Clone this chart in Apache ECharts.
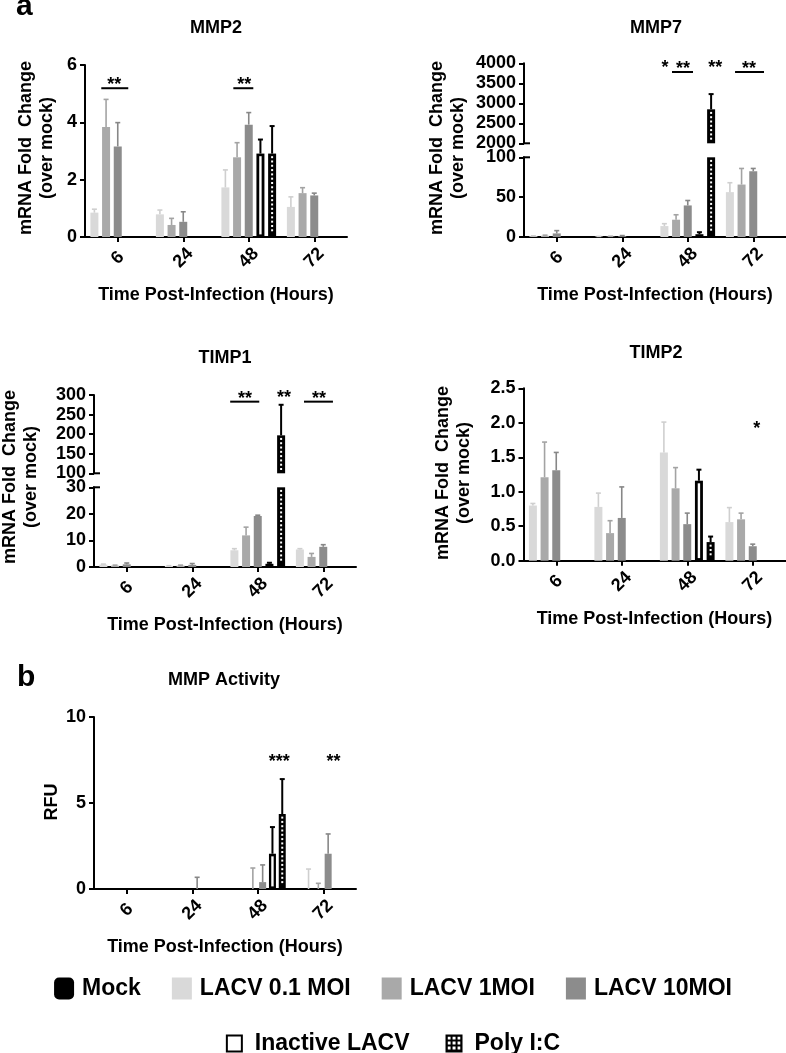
<!DOCTYPE html>
<html><head><meta charset="utf-8">
<script src="https://cdn.jsdelivr.net/npm/echarts@6/dist/echarts.min.js"></script>
<style>html,body{margin:0;padding:0;background:#fff}#c{width:786px;height:1053px}</style>
</head><body><div id="c"></div>
<script>
// ---------------- data ----------------
const categories = ['6', '24', '48', '72'];
const fiveNames = ['LACV 0.1 MOI', 'LACV 1MOI', 'LACV 10MOI', 'Inactive LACV', 'Poly I:C'];
const sixNames = ['Mock', 'LACV 0.1 MOI', 'LACV 1MOI', 'LACV 10MOI', 'Inactive LACV', 'Poly I:C'];

// MMP2 (mean, SD) per series, per time point
const mmp2Mean = [[0.85, 0.79, 1.73, 1.05], [3.84, 0.42, 2.78, 1.53], [3.16, 0.53, 3.92, 1.45], [null, null, 2.91, null], [null, null, 2.91, null]];
const mmp2Err  = [[0.12, 0.15, 0.61, 0.35], [0.96, 0.23, 0.51, 0.19], [0.83, 0.35, 0.42, 0.08], [null, null, 0.49, null], [null, null, 0.96, null]];
// MMP7
const mmp7Mean = [[1.0, 0.5, 13.7, 56.3], [1.5, 0.6, 21.7, 65.8], [4.5, 1.0, 39.6, 82.5], [null, null, 3.5, null], [null, null, 2850, null]];
const mmp7Err  = [[0.5, 0.3, 3.0, 11.8], [0.8, 0.3, 6.2, 20.2], [3.5, 0.8, 6.2, 3.5], [null, null, 2.5, null], [null, null, 380, null]];
// TIMP1
const timp1Mean = [[0.9, 0.4, 6.3, 6.6], [0.5, 0.5, 11.9, 3.8], [1.0, 0.8, 19.2, 7.6], [null, null, 1.2, null], [null, null, 197, null]];
const timp1Err  = [[0.2, 0.1, 0.6, 0.3], [0.2, 0.2, 3.1, 1.3], [0.5, 0.5, 0.3, 0.8], [null, null, 0.4, null], [null, null, 78, null]];
// TIMP2
const timp2Mean = [[0.80, 0.78, 1.57, 0.56], [1.21, 0.40, 1.05, 0.60], [1.31, 0.62, 0.53, 0.21], [null, null, 1.16, null], [null, null, 0.27, null]];
const timp2Err  = [[0.03, 0.20, 0.44, 0.21], [0.51, 0.18, 0.30, 0.09], [0.26, 0.45, 0.16, 0.03], [null, null, 0.16, null], [null, null, 0.08, null]];
// MMP activity (RFU)
const actMean = [[0, 0, 0, 0], [0, 0, 0, 0], [0, 0, 0, 0], [0, 0, 0.4, 2.05], [null, null, 2.05, null], [null, null, 4.36, null]];
const actErr  = [[0, 0, 0, 0], [0, 0, 0, 1.16], [0, 0, 1.22, 0.33], [0, 0.68, 1.0, 1.15], [null, null, 1.55, null], [null, null, 2.03, null]];

// significance marks: [category, text x (bar slots from group centre), line from, line to (null = no line), y value, text]
const mmp2Sig = [[0, -0.3, -1.41, 0.9, 5.19, '**'], [2, -0.38, -1.32, 0.39, 5.19, '**']];
const mmp7Sig = [[2, -1.95, null, null, 4007, '*'], [2, -0.4, -1.35, 0.45, 3782, '**'], [2, 2.35, null, null, 4007, '**'], [3, -0.36, -1.56, 0.92, 3782, '**']];
const timp1Sig = [[2, -1.1, -2.36, 0.13, 283, '**'], [2, 2.25, null, null, 306, '**'], [3, -0.36, -1.65, 0.83, 283, '**']];
const timp2Sig = [[3, 0.34, null, null, 1.98, '*']];
const actSig = [[2, 2.2, null, null, 7.67, '***'], [3, 1.05, null, null, 7.67, '**']];

// ---------------- styles ----------------
const FONT = '"Liberation Sans", Arial, Helvetica, sans-serif';
const colors = {'Mock': '#000000', 'LACV 0.1 MOI': '#d9d9d9', 'LACV 1MOI': '#a9a9a9', 'LACV 10MOI': '#8c8c8c', 'Inactive LACV': '#000000', 'Poly I:C': '#000000'};
const errColors = {'Mock': '#000000', 'LACV 0.1 MOI': '#cfcfcf', 'LACV 1MOI': '#a3a3a3', 'LACV 10MOI': '#878787', 'Inactive LACV': '#000000', 'Poly I:C': '#000000'};
const fold = 'mRNA Fold  Change\n(over mock)';
const xTitle = 'Time Post-Infection (Hours)';

const panels = [
  {title: 'MMP2', titlePos: [216, 28.5], mean: mmp2Mean, err: mmp2Err, names: fiveNames, sig: mmp2Sig,
   left: 85, width: 262, barWidth: 8, barGap: 46, yName: fold, yNamePos: [37, 148],
   segs: [{min: 0, max: 6, interval: 2, top: 65, height: 172}]},
  {title: 'MMP7', titlePos: [656, 28.5], mean: mmp7Mean, err: mmp7Err, names: fiveNames, sig: mmp7Sig,
   left: 524, width: 262, barWidth: 8, barGap: 46, yName: fold, yNamePos: [448, 148],
   segs: [{min: 0, max: 100, interval: 50, top: 157.3, height: 79.7}, {min: 2000, max: 4000, interval: 500, top: 63.3, height: 80}]},
  {title: 'TIMP1', titlePos: [225, 358.5], mean: timp1Mean, err: timp1Err, names: fiveNames, sig: timp1Sig,
   left: 94, width: 262, barWidth: 8, barGap: 46, yName: fold, yNamePos: [21, 477],
   segs: [{min: 0, max: 30, interval: 10, top: 487.3, height: 79.7}, {min: 100, max: 300, interval: 50, top: 395, height: 78.3}]},
  {title: 'TIMP2', titlePos: [656, 353.5], mean: timp2Mean, err: timp2Err, names: fiveNames, sig: timp2Sig,
   left: 523.5, width: 262, barWidth: 8, barGap: 46, yName: fold, yNamePos: [454, 473],
   segs: [{min: 0, max: 2.5, interval: 0.5, top: 388.3, height: 172.4, fmt: v => v.toFixed(1)}]},
  {title: 'MMP Activity', titlePos: [224, 680.5], mean: actMean, err: actErr, names: sixNames, sig: actSig,
   left: 94, width: 262, barWidth: 7, barGap: 40, yName: 'RFU', yNamePos: [52, 802],
   segs: [{min: 0, max: 10, interval: 5, top: 717, height: 172}]}
];

const grid = [], xAxis = [], yAxis = [], series = [], graphic = [];
const lineStyle = {color: '#000', width: 2};
const boldText = {color: '#000', fontFamily: FONT, fontWeight: 'bold', fontSize: 18};

function overlaySeries(p, sg, gi, sp) {
  const data = [];
  const mid = (p.names.length - 1) / 2;
  p.names.forEach((nm, s) => p.mean[s].forEach((v, c) => {
    if (v !== null) data.push([c, v, p.err[s][c] || 0, s]);
  }));
  return {
    type: 'custom', xAxisIndex: gi, yAxisIndex: gi, silent: true, z: 5, animation: false,
    data: data, encode: {x: 0, y: 1},
    renderItem: function (params, api) {
      const c = api.value(0), v = api.value(1), e = api.value(2), s = api.value(3);
      const nm = p.names[s];
      const cx = api.coord([c, sg.min])[0] + (s - mid) * sp;
      const Y = val => api.coord([c, val])[1];
      const lo = sg.min, hi = sg.max;
      const kids = [];
      if (v > lo) {
        const top = Y(Math.min(v, hi)), bot = Y(lo);
        const inset = 2.6;
        if (bot - top > 2 * inset + 1) {
          if (nm === 'Inactive LACV') {
            kids.push({type: 'rect', shape: {x: cx - 1.2, y: top + inset, width: 2.4, height: bot - top - 2 * inset}, style: {fill: '#fff'}});
          }
          if (nm === 'Poly I:C') {
            for (let y = top + inset; y + 2 <= bot - inset + 0.01; y += 4.3) {
              kids.push({type: 'rect', shape: {x: cx - 1, y: y, width: 2, height: 2}, style: {fill: '#fff'}});
            }
          }
        }
      }
      const t = v + e;
      if (e > 0 && v < hi && t > lo) {
        const y0 = Y(Math.max(v, lo)), y1 = Y(Math.min(t, hi));
        const col = errColors[nm];
        const lw = colors[nm] === '#000000' ? 2 : 1.6;
        kids.push({type: 'line', shape: {x1: cx, y1: y0, x2: cx, y2: y1}, style: {stroke: col, lineWidth: lw}});
        if (t <= hi) kids.push({type: 'line', shape: {x1: cx - 2.5, y1: y1, x2: cx + 2.5, y2: y1}, style: {stroke: col, lineWidth: lw}});
      }
      return {type: 'group', children: kids};
    }
  };
}

function sigSeries(p, gi, sp) {
  return {
    type: 'custom', xAxisIndex: gi, yAxisIndex: gi, silent: true, clip: false, z: 6, animation: false,
    data: p.sig.map((a, i) => [a[0], a[4], i]), encode: {x: 0, y: 1},
    renderItem: function (params, api) {
      const a = p.sig[api.value(2)];
      const pt = api.coord([a[0], a[4]]);
      const kids = [];
      const hasLine = a[2] !== null;
      if (hasLine) {
        kids.push({type: 'line', shape: {x1: pt[0] + a[2] * sp, y1: pt[1], x2: pt[0] + a[3] * sp, y2: pt[1]}, style: {stroke: '#000', lineWidth: 2}});
      }
      kids.push({type: 'text', x: pt[0] + a[1] * sp, y: pt[1] + (hasLine ? -3 : 5),
        style: {text: a[5], font: 'bold 18px ' + FONT, textAlign: 'center', textVerticalAlign: 'middle', fill: '#000'}});
      return {type: 'group', children: kids};
    }
  };
}

panels.forEach(p => {
  const sp = p.barWidth * (1 + p.barGap / 100);
  p.segs.forEach((sg, k) => {
    const gi = grid.length;
    const isBottom = k === 0;
    grid.push({left: p.left, top: sg.top, width: p.width, height: sg.height});
    xAxis.push({
      type: 'category', gridIndex: gi, data: categories, show: isBottom,
      axisLine: {show: true, lineStyle: lineStyle},
      axisTick: {show: true, alignWithLabel: true, length: 5, lineStyle: lineStyle},
      axisLabel: Object.assign({rotate: 45, align: 'center', verticalAlign: 'middle', margin: 21}, boldText),
      name: isBottom ? xTitle : '', nameLocation: 'middle', nameGap: 49,
      nameTextStyle: boldText
    });
    yAxis.push({
      type: 'value', gridIndex: gi, min: sg.min, max: sg.max, interval: sg.interval,
      splitLine: {show: false},
      axisLine: {show: true, lineStyle: lineStyle},
      axisTick: {show: true, length: 5, lineStyle: lineStyle},
      axisLabel: Object.assign({margin: 8, formatter: sg.fmt || (v => String(v))}, boldText)
    });
    p.names.forEach((nm, s) => {
      series.push({
        type: 'bar', name: nm, xAxisIndex: gi, yAxisIndex: gi, silent: true, animation: false,
        data: p.mean[s].map(v => v === null ? '-' : v),
        barWidth: p.barWidth, barGap: p.barGap + '%', clip: true,
        itemStyle: {color: colors[nm]}
      });
    });
    series.push(overlaySeries(p, sg, gi, sp));
    if (k === p.segs.length - 1) series.push(sigSeries(p, gi, sp));
  });
  // break marks for broken axes
  if (p.segs.length > 1) {
    const lowTop = p.segs[0].top, upBottom = p.segs[1].top + p.segs[1].height;
    [lowTop, upBottom].forEach(y => graphic.push({type: 'line', shape: {x1: p.left - 1, y1: y, x2: p.left + 6, y2: y}, style: {stroke: '#000', lineWidth: 2}}));
  }
  graphic.push({type: 'text', x: p.titlePos[0], y: p.titlePos[1],
    style: {text: p.title, font: 'bold 18px ' + FONT, textAlign: 'center', textVerticalAlign: 'middle', fill: '#000'}});
  graphic.push({type: 'text', x: p.yNamePos[0], y: p.yNamePos[1], rotation: Math.PI / 2,
    style: {text: p.yName, font: 'bold 18px ' + FONT, textAlign: 'center', textVerticalAlign: 'middle', lineHeight: 21, fill: '#000'}});
});

graphic.push({type: 'text', x: 16, y: 6.6, style: {text: 'a', font: 'bold 30px ' + FONT, textAlign: 'left', textVerticalAlign: 'middle', fill: '#000'}});
graphic.push({type: 'text', x: 17, y: 677.6, style: {text: 'b', font: 'bold 30px ' + FONT, textAlign: 'left', textVerticalAlign: 'middle', fill: '#000'}});

// checkered pattern for the Poly I:C legend swatch
const pc = document.createElement('canvas');
pc.width = 5; pc.height = 5;
const g2 = pc.getContext('2d');
g2.fillStyle = '#000'; g2.fillRect(0, 0, 5, 5);
g2.fillStyle = '#fff'; g2.fillRect(1, 1, 3, 3);

const legendText = {color: '#000', fontFamily: FONT, fontWeight: 'bold', fontSize: 23};
const option = {
  animation: false,
  backgroundColor: '#fff',
  grid: grid, xAxis: xAxis, yAxis: yAxis, series: series,
  graphic: graphic,
  legend: [
    {data: [{name: 'Mock', icon: 'roundRect', itemStyle: {color: '#000'}}, {name: 'LACV 0.1 MOI'}, {name: 'LACV 1MOI'}, {name: 'LACV 10MOI'}],
     icon: 'rect', left: 'center', top: 972, itemWidth: 20, itemHeight: 22, itemGap: 31,
     selectedMode: false, textStyle: Object.assign({padding: [0, 0, 0, 3]}, legendText)},
    {data: [{name: 'Inactive LACV', itemStyle: {color: '#fff', borderColor: '#000', borderWidth: 2}},
            {name: 'Poly I:C', itemStyle: {color: {image: pc, repeat: 'repeat'}, borderColor: '#000', borderWidth: 2}}],
     icon: 'rect', left: 'center', top: 1027, itemWidth: 15, itemHeight: 16, itemGap: 36,
     selectedMode: false, textStyle: Object.assign({padding: [0, 0, 0, 8]}, legendText)}
  ]
};
const chart = echarts.init(document.getElementById('c'), null, {renderer: 'canvas', width: 786, height: 1053});
chart.setOption(option);
</script>
</body></html>
